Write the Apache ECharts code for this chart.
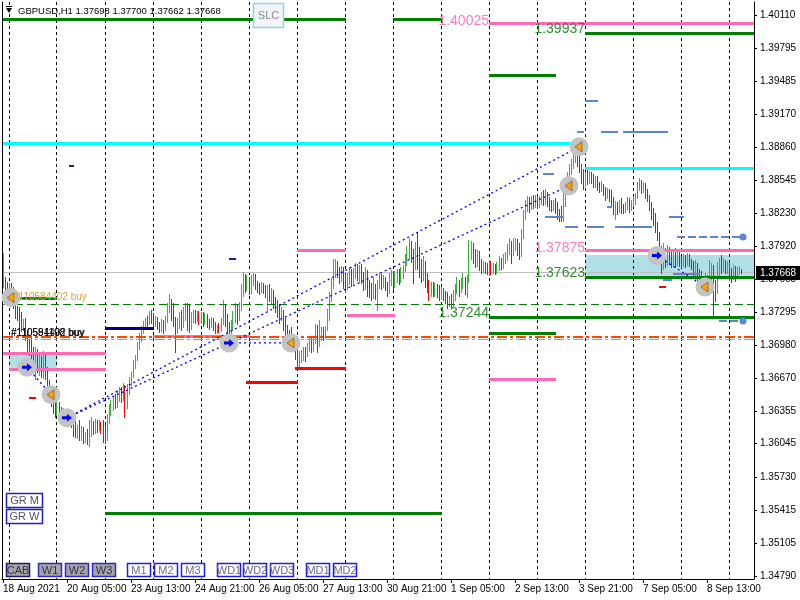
<!DOCTYPE html>
<html><head><meta charset="utf-8">
<script src="https://cdn.jsdelivr.net/npm/echarts@6/dist/echarts.min.js"></script>
<style>html,body{margin:0;padding:0;background:#fff}#c{width:800px;height:600px}</style>
</head><body><div id="c"></div>
<script>
// ---- DATA ----
const symbolTitle = 'GBPUSD,H1 1.37698 1.37700 1.37662 1.37668';
const tickLabels = ['18 Aug 2021','20 Aug 05:00','23 Aug 13:00','24 Aug 21:00','26 Aug 05:00','27 Aug 13:00','30 Aug 21:00','1 Sep 05:00','2 Sep 13:00','3 Sep 21:00','7 Sep 05:00','8 Sep 13:00'];
const priceTicks = [1.40110,1.39795,1.39485,1.39170,1.38860,1.38545,1.38230,1.37920,1.37605,1.37295,1.36980,1.36670,1.36355,1.36045,1.35730,1.35415,1.35105,1.34790];
const daySeparators = [3,27,51,75,99,123,147,171,195,219,243,267,291,315,339,363];
const bidPrice = 1.37668;
// H1 bars: [open, close, low, high]
const bars = [
[1.3757,1.3780,1.3753,1.3785],[1.3762,1.3752,1.3749,1.3763],[1.3753,1.3748,1.3745,1.3758],[1.3748,1.3755,1.3744,1.3757],[1.3755,1.3746,1.3741,1.3757],[1.3746,1.3738,1.3733,1.3753],
[1.3738,1.3729,1.3724,1.3742],[1.3729,1.3725,1.3722,1.3735],[1.3725,1.3718,1.3712,1.3734],[1.3718,1.3715,1.3711,1.3729],[1.3715,1.3721,1.3712,1.3723],[1.3721,1.3708,1.3703,1.3724],
[1.3708,1.3698,1.3692,1.3712],[1.3698,1.3693,1.3689,1.3703],[1.3693,1.3688,1.3684,1.3706],[1.3688,1.3684,1.3676,1.3696],[1.3684,1.3692,1.3666,1.3696],[1.3692,1.3680,1.3672,1.3694],
[1.3680,1.3686,1.3670,1.3690],[1.3686,1.3677,1.3668,1.3688],[1.3677,1.3685,1.3667,1.3692],[1.3685,1.3672,1.3666,1.3690],[1.3672,1.3660,1.3655,1.3677],[1.3660,1.3655,1.3649,1.3665],
[1.3655,1.3645,1.3640,1.3658],[1.3645,1.3638,1.3634,1.3652],[1.3638,1.3636,1.3630,1.3646],[1.3636,1.3641,1.3632,1.3645],[1.3641,1.3633,1.3628,1.3644],[1.3633,1.3630,1.3625,1.3639],
[1.3630,1.3634,1.3626,1.3638],[1.3634,1.3628,1.3624,1.3637],[1.3628,1.3627,1.3622,1.3633],[1.3627,1.3631,1.3621,1.3633],[1.3631,1.3624,1.3620,1.3632],[1.3624,1.3617,1.3612,1.3633],
[1.3617,1.3613,1.3611,1.3626],[1.3613,1.3618,1.3610,1.3622],[1.3618,1.3611,1.3608,1.3627],[1.3611,1.3614,1.3608,1.3621],[1.3614,1.3609,1.3605,1.3620],[1.3609,1.3612,1.3606,1.3616],
[1.3612,1.3606,1.3604,1.3618],[1.3606,1.3615,1.3602,1.3627],[1.3615,1.3622,1.3612,1.3630],[1.3622,1.3617,1.3614,1.3626],[1.3617,1.3624,1.3615,1.3628],[1.3624,1.3619,1.3616,1.3627],
[1.3619,1.3623,1.3617,1.3627],[1.3623,1.3618,1.3615,1.3625],[1.3618,1.3611,1.3606,1.3627],[1.3611,1.3609,1.3605,1.3622],[1.3609,1.3630,1.3608,1.3633],[1.3630,1.3638,1.3624,1.3642],
[1.3638,1.3643,1.3632,1.3646],[1.3643,1.3647,1.3636,1.3650],[1.3647,1.3642,1.3638,1.3652],[1.3642,1.3650,1.3639,1.3655],[1.3650,1.3654,1.3645,1.3658],[1.3654,1.3649,1.3644,1.3658],
[1.3649,1.3656,1.3646,1.3662],[1.3656,1.3640,1.3630,1.3660],[1.3640,1.3658,1.3638,1.3661],[1.3658,1.3665,1.3652,1.3668],[1.3665,1.3670,1.3660,1.3672],[1.3670,1.3680,1.3668,1.3684],
[1.3680,1.3686,1.3676,1.3689],[1.3686,1.3698,1.3684,1.3701],[1.3698,1.3705,1.3694,1.3709],[1.3705,1.3712,1.3702,1.3716],[1.3712,1.3718,1.3709,1.3721],[1.3718,1.3722,1.3713,1.3724],
[1.3722,1.3720,1.3716,1.3726],[1.3720,1.3726,1.3718,1.3730],[1.3726,1.3723,1.3719,1.3731],[1.3723,1.3718,1.3715,1.3728],[1.3718,1.3722,1.3716,1.3726],[1.3722,1.3716,1.3713,1.3725],
[1.3716,1.3715,1.3710,1.3720],[1.3715,1.3720,1.3711,1.3723],[1.3720,1.3714,1.3709,1.3722],[1.3714,1.3722,1.3712,1.3726],[1.3722,1.3734,1.3720,1.3738],[1.3734,1.3740,1.3729,1.3746],
[1.3740,1.3728,1.3722,1.3742],[1.3728,1.3722,1.3716,1.3738],[1.3722,1.3712,1.3691,1.3725],[1.3712,1.3720,1.3709,1.3724],[1.3720,1.3726,1.3714,1.3729],[1.3726,1.3718,1.3712,1.3731],
[1.3718,1.3728,1.3715,1.3734],[1.3728,1.3733,1.3722,1.3738],[1.3733,1.3722,1.3712,1.3738],[1.3722,1.3716,1.3710,1.3736],[1.3716,1.3724,1.3713,1.3729],[1.3724,1.3729,1.3720,1.3731],
[1.3729,1.3724,1.3719,1.3731],[1.3724,1.3728,1.3721,1.3730],[1.3728,1.3722,1.3718,1.3730],[1.3722,1.3727,1.3719,1.3729],[1.3727,1.3721,1.3716,1.3729],[1.3721,1.3726,1.3718,1.3728],
[1.3726,1.3719,1.3715,1.3727],[1.3719,1.3717,1.3713,1.3723],[1.3717,1.3722,1.3715,1.3725],[1.3722,1.3715,1.3712,1.3724],[1.3715,1.3711,1.3709,1.3720],[1.3711,1.3714,1.3709,1.3717],
[1.3714,1.3712,1.3710,1.3719],[1.3712,1.3720,1.3711,1.3724],[1.3720,1.3733,1.3718,1.3741],[1.3733,1.3722,1.3716,1.3736],[1.3722,1.3714,1.3709,1.3727],[1.3714,1.3710,1.3705,1.3720],
[1.3710,1.3717,1.3708,1.3722],[1.3717,1.3726,1.3712,1.3730],[1.3726,1.3733,1.3720,1.3738],[1.3733,1.3726,1.3718,1.3736],[1.3726,1.3735,1.3722,1.3739],[1.3735,1.3752,1.3731,1.3756],
[1.3752,1.3762,1.3745,1.3767],[1.3762,1.3754,1.3748,1.3765],[1.3754,1.3760,1.3750,1.3764],[1.3760,1.3751,1.3746,1.3763],[1.3751,1.3760,1.3747,1.3764],[1.3760,1.3763,1.3755,1.3766],
[1.3763,1.3755,1.3751,1.3765],[1.3755,1.3752,1.3748,1.3759],[1.3752,1.3750,1.3746,1.3757],[1.3750,1.3754,1.3748,1.3758],[1.3754,1.3749,1.3747,1.3757],[1.3749,1.3747,1.3744,1.3755],
[1.3747,1.3752,1.3731,1.3755],[1.3752,1.3744,1.3740,1.3756],[1.3744,1.3748,1.3738,1.3752],[1.3748,1.3738,1.3733,1.3750],[1.3738,1.3735,1.3729,1.3744],[1.3735,1.3730,1.3725,1.3741],
[1.3730,1.3726,1.3719,1.3736],[1.3726,1.3730,1.3722,1.3734],[1.3730,1.3718,1.3712,1.3731],[1.3718,1.3710,1.3706,1.3724],[1.3710,1.3706,1.3703,1.3717],[1.3706,1.3704,1.3699,1.3712],
[1.3704,1.3700,1.3695,1.3715],[1.3700,1.3698,1.3694,1.3707],[1.3698,1.3692,1.3685,1.3703],[1.3692,1.3684,1.3677,1.3697],[1.3684,1.3688,1.3677,1.3692],[1.3688,1.3690,1.3682,1.3693],
[1.3690,1.3694,1.3684,1.3696],[1.3694,1.3689,1.3683,1.3696],[1.3689,1.3697,1.3688,1.3700],[1.3697,1.3701,1.3692,1.3705],[1.3701,1.3696,1.3691,1.3706],[1.3696,1.3703,1.3692,1.3705],
[1.3703,1.3714,1.3700,1.3718],[1.3714,1.3699,1.3691,1.3717],[1.3699,1.3710,1.3697,1.3722],[1.3710,1.3712,1.3703,1.3715],[1.3712,1.3707,1.3703,1.3715],[1.3707,1.3713,1.3705,1.3716],
[1.3713,1.3728,1.3712,1.3732],[1.3728,1.3745,1.3722,1.3748],[1.3745,1.3758,1.3740,1.3762],[1.3758,1.3776,1.3752,1.3780],[1.3776,1.3777,1.3763,1.3780],[1.3777,1.3768,1.3763,1.3778],
[1.3768,1.3762,1.3757,1.3772],[1.3762,1.3770,1.3759,1.3773],[1.3770,1.3758,1.3752,1.3772],[1.3758,1.3753,1.3748,1.3765],[1.3753,1.3762,1.3751,1.3766],[1.3762,1.3768,1.3756,1.3772],
[1.3768,1.3760,1.3754,1.3770],[1.3760,1.3768,1.3757,1.3771],[1.3768,1.3772,1.3762,1.3776],[1.3772,1.3765,1.3760,1.3775],[1.3765,1.3771,1.3758,1.3774],[1.3771,1.3763,1.3757,1.3775],
[1.3763,1.3755,1.3750,1.3767],[1.3755,1.3766,1.3751,1.3772],[1.3766,1.3753,1.3745,1.3769],[1.3753,1.3749,1.3744,1.3760],[1.3749,1.3746,1.3741,1.3757],[1.3746,1.3752,1.3743,1.3763],
[1.3752,1.3747,1.3742,1.3756],[1.3747,1.3757,1.3731,1.3760],[1.3757,1.3762,1.3752,1.3766],[1.3762,1.3756,1.3751,1.3765],[1.3756,1.3761,1.3753,1.3764],[1.3761,1.3754,1.3750,1.3763],
[1.3754,1.3750,1.3745,1.3758],[1.3750,1.3760,1.3747,1.3766],[1.3760,1.3765,1.3755,1.3769],[1.3765,1.3756,1.3751,1.3768],[1.3756,1.3763,1.3753,1.3768],[1.3763,1.3767,1.3758,1.3770],
[1.3767,1.3761,1.3756,1.3770],[1.3761,1.3768,1.3758,1.3772],[1.3768,1.3771,1.3762,1.3774],[1.3771,1.3780,1.3768,1.3784],[1.3780,1.3788,1.3774,1.3792],[1.3788,1.3795,1.3780,1.3800],
[1.3795,1.3783,1.3777,1.3797],[1.3783,1.3776,1.3757,1.3789],[1.3776,1.3792,1.3770,1.3796],[1.3792,1.3778,1.3770,1.3805],[1.3778,1.3770,1.3763,1.3791],[1.3770,1.3765,1.3758,1.3780],
[1.3765,1.3774,1.3760,1.3782],[1.3774,1.3762,1.3753,1.3778],[1.3762,1.3755,1.3748,1.3766],[1.3755,1.3750,1.3741,1.3760],[1.3750,1.3755,1.3745,1.3758],[1.3755,1.3750,1.3745,1.3758],
[1.3750,1.3754,1.3745,1.3757],[1.3754,1.3748,1.3744,1.3756],[1.3748,1.3746,1.3741,1.3755],[1.3746,1.3750,1.3742,1.3753],[1.3750,1.3745,1.3741,1.3752],[1.3745,1.3742,1.3738,1.3749],
[1.3742,1.3738,1.3733,1.3748],[1.3738,1.3742,1.3735,1.3745],[1.3742,1.3737,1.3733,1.3746],[1.3737,1.3745,1.3735,1.3750],[1.3745,1.3752,1.3741,1.3756],[1.3752,1.3757,1.3747,1.3763],
[1.3757,1.3751,1.3745,1.3760],[1.3751,1.3758,1.3748,1.3762],[1.3758,1.3761,1.3752,1.3766],[1.3761,1.3753,1.3746,1.3763],[1.3753,1.3760,1.3744,1.3764],[1.3760,1.3790,1.3758,1.3798],
[1.3790,1.3793,1.3780,1.3797],[1.3793,1.3782,1.3776,1.3795],[1.3782,1.3777,1.3772,1.3789],[1.3777,1.3784,1.3773,1.3788],[1.3784,1.3774,1.3769,1.3787],[1.3774,1.3770,1.3766,1.3780],
[1.3770,1.3775,1.3767,1.3778],[1.3775,1.3769,1.3766,1.3777],[1.3769,1.3767,1.3765,1.3776],[1.3767,1.3774,1.3764,1.3779],[1.3774,1.3768,1.3765,1.3778],[1.3768,1.3772,1.3766,1.3776],
[1.3772,1.3768,1.3765,1.3775],[1.3768,1.3773,1.3766,1.3777],[1.3773,1.3778,1.3769,1.3782],[1.3778,1.3773,1.3770,1.3781],[1.3773,1.3780,1.3771,1.3784],[1.3780,1.3783,1.3776,1.3786],
[1.3783,1.3790,1.3779,1.3794],[1.3790,1.3795,1.3784,1.3800],[1.3795,1.3786,1.3776,1.3797],[1.3786,1.3794,1.3783,1.3800],[1.3794,1.3797,1.3788,1.3800],[1.3797,1.3788,1.3783,1.3799],
[1.3788,1.3784,1.3780,1.3795],[1.3784,1.3805,1.3782,1.3808],[1.3805,1.3822,1.3800,1.3826],[1.3822,1.3832,1.3818,1.3836],[1.3832,1.3836,1.3825,1.3839],[1.3836,1.3830,1.3824,1.3838],
[1.3830,1.3836,1.3827,1.3839],[1.3836,1.3832,1.3828,1.3840],[1.3832,1.3837,1.3829,1.3840],[1.3837,1.3831,1.3828,1.3839],[1.3831,1.3836,1.3829,1.3839],[1.3836,1.3840,1.3832,1.3843],
[1.3840,1.3835,1.3831,1.3845],[1.3835,1.3841,1.3832,1.3846],[1.3841,1.3834,1.3830,1.3843],[1.3834,1.3831,1.3826,1.3838],[1.3831,1.3829,1.3825,1.3836],[1.3829,1.3833,1.3826,1.3836],
[1.3833,1.3828,1.3823,1.3837],[1.3828,1.3822,1.3818,1.3834],[1.3822,1.3820,1.3816,1.3827],[1.3820,1.3818,1.3816,1.3830],[1.3818,1.3838,1.3816,1.3842],[1.3838,1.3848,1.3830,1.3851],
[1.3848,1.3858,1.3845,1.3862],[1.3858,1.3866,1.3852,1.3870],[1.3866,1.3870,1.3860,1.3874],[1.3870,1.3878,1.3866,1.3882],[1.3878,1.3886,1.3872,1.3890],[1.3886,1.3875,1.3868,1.3888],
[1.3875,1.3866,1.3862,1.3880],[1.3866,1.3858,1.3852,1.3870],[1.3858,1.3852,1.3846,1.3865],[1.3852,1.3858,1.3849,1.3862],[1.3858,1.3855,1.3851,1.3864],[1.3855,1.3860,1.3852,1.3863],
[1.3860,1.3855,1.3852,1.3862],[1.3855,1.3852,1.3848,1.3860],[1.3852,1.3856,1.3848,1.3858],[1.3856,1.3849,1.3845,1.3858],[1.3849,1.3846,1.3843,1.3853],[1.3846,1.3850,1.3844,1.3854],
[1.3850,1.3843,1.3840,1.3851],[1.3843,1.3840,1.3836,1.3848],[1.3840,1.3844,1.3837,1.3847],[1.3844,1.3838,1.3835,1.3846],[1.3838,1.3833,1.3829,1.3845],[1.3833,1.3826,1.3822,1.3838],
[1.3826,1.3832,1.3818,1.3835],[1.3832,1.3827,1.3822,1.3834],[1.3827,1.3832,1.3824,1.3836],[1.3832,1.3828,1.3823,1.3837],[1.3828,1.3826,1.3823,1.3832],[1.3826,1.3831,1.3824,1.3834],
[1.3831,1.3835,1.3827,1.3838],[1.3835,1.3829,1.3824,1.3837],[1.3829,1.3834,1.3826,1.3836],[1.3834,1.3837,1.3830,1.3839],[1.3837,1.3840,1.3832,1.3842],[1.3840,1.3850,1.3837,1.3853],
[1.3850,1.3853,1.3845,1.3856],[1.3853,1.3847,1.3842,1.3855],[1.3847,1.3850,1.3843,1.3853],[1.3850,1.3842,1.3837,1.3852],[1.3842,1.3838,1.3835,1.3846],[1.3838,1.3832,1.3826,1.3840],
[1.3832,1.3825,1.3818,1.3834],[1.3825,1.3818,1.3812,1.3828],[1.3818,1.3810,1.3805,1.3823],[1.3810,1.3802,1.3798,1.3815],[1.3802,1.3785,1.3780,1.3805],[1.3785,1.3774,1.3766,1.3792],
[1.3774,1.3786,1.3770,1.3795],[1.3786,1.3778,1.3772,1.3790],[1.3778,1.3788,1.3774,1.3793],[1.3788,1.3780,1.3775,1.3791],[1.3780,1.3776,1.3772,1.3786],[1.3776,1.3782,1.3773,1.3788],
[1.3782,1.3777,1.3772,1.3790],[1.3777,1.3783,1.3774,1.3786],[1.3783,1.3777,1.3773,1.3786],[1.3777,1.3776,1.3772,1.3782],[1.3776,1.3780,1.3773,1.3784],[1.3780,1.3776,1.3772,1.3783],
[1.3776,1.3781,1.3774,1.3785],[1.3781,1.3777,1.3773,1.3784],[1.3777,1.3774,1.3770,1.3780],[1.3774,1.3768,1.3762,1.3778],[1.3768,1.3773,1.3760,1.3779],[1.3773,1.3765,1.3757,1.3776],
[1.3765,1.3762,1.3757,1.3770],[1.3762,1.3755,1.3750,1.3768],[1.3755,1.3752,1.3747,1.3762],[1.3752,1.3760,1.3749,1.3766],[1.3760,1.3753,1.3748,1.3764],[1.3753,1.3768,1.3752,1.3779],
[1.3768,1.3772,1.3757,1.3776],[1.3772,1.3754,1.3725,1.3774],[1.3754,1.3750,1.3740,1.3760],[1.3750,1.3768,1.3747,1.3777],[1.3768,1.3777,1.3762,1.3781],[1.3777,1.3772,1.3766,1.3783],
[1.3772,1.3776,1.3768,1.3781],[1.3776,1.3771,1.3766,1.3779],[1.3771,1.3775,1.3766,1.3778],[1.3775,1.3766,1.3760,1.3777],[1.3766,1.3763,1.3758,1.3771],[1.3763,1.3770,1.3761,1.3774],
[1.3770,1.3764,1.3759,1.3773],[1.3764,1.3770,1.3762,1.3772],[1.3768,1.3770,1.3765,1.3773],[1.37698,1.37668,1.37662,1.37700]
];
// horizontal objects: [fromBar, toBar, price]
const greenLevels = [[0,171,1.40072],[195,219,1.40072],[291,375,1.39937],[243,276,1.39541],[291,375,1.37623],[243,375,1.37244],[243,276,1.37085],[51,219,1.35378],[0,27,1.37417]];
const pinkLevels = [[243,375,1.40025],[147,171,1.37875],[291,375,1.37875],[172,196,1.37260],[75,123,1.37063],[0,51,1.36902],[3,51,1.36744],[243,276,1.36658]];
const cyanLevels = [[0,291,1.38895],[291,375,1.38657]];
const redLevels = [[146,171,1.36760],[122,147,1.36628]];
const navyLevels = [[51,75,1.37139]];
const zones = [[3,27,1.36744,1.36890],[291,375,1.37623,1.37834]];
const openOrderLine = [[0,375,1.37366]];
const stopLineA = [[0,375,1.37055]];
const stopLineB = [[0,375,1.37036]];
const blueTicks = [[291,297,1.39294],[287,290,1.38999],[299,307,1.38999],[310,332,1.38999],[270,275,1.38602],[271,280,1.38194],[281,287,1.38100],[292,300,1.38100],[306,324,1.38100],[302,304,1.38289],[333,340,1.38194],[330,334,1.37597],[335,348,1.37654]];
const blueRays = [[337,370,1.38005],[358,370,1.37209]];
const navyTicks = [[113,116,1.37796],[33,35,1.38678]];
const redTicks = [[13,16,1.36478],[328,331,1.37532]];
// trades: [openBar, openPrice, closeBar, closePrice]
const trades = [[12,1.3677,24,1.3651],[32,1.3629,288,1.3886],[32,1.3629,283,1.3849],[113,1.3700,144,1.3700],[327,1.3783,351,1.3753]];
const openMarks = [[12,1.3677],[32,1.3629],[113,1.3700],[327,1.3783]];
const closeMarks = [[4,1.3743],[24,1.3651],[144,1.3700],[283,1.3849],[288,1.3886],[351,1.3753]];
const pinkTexts = [[243,1.40025,'1.40025'],[291,1.37875,'1.37875']];
const greenTexts = [[291,1.39937,'1.39937'],[291,1.37623,'1.37623'],[243,1.37244,'1.37244']];
const orderTexts = [[5,1.37430,'#110584402 buy','#d9a441'],[4,1.37090,'#110591198 buy','#000'],[4,1.37090,'#110584402 buy','#111']];
const buttonsGrey = ['CAB','W1','W2','W3'];
const buttonsWhite = ['M1','M2','M3','WD1','WD2','WD3','MD1','MD2'];

const categories = Array.from({length: 376}, (_, i) => String(i));
const FONT = 'Liberation Sans, Arial, sans-serif';

// ---- helpers ----
function hSeg(data, color, width, dash) {
  return {
    type: 'custom', data: data, encode: {x: [0, 1], y: 2}, clip: false, silent: true,
    renderItem: function (params, api) {
      const a = api.coord([api.value(0), api.value(2)]);
      const b = api.coord([api.value(1), api.value(2)]);
      const y = (width % 2) ? Math.round(a[1] - 0.5) + 0.5 : Math.round(a[1]);
      return {type: 'line', shape: {x1: Math.floor(a[0]), y1: y, x2: Math.floor(b[0]) + 1, y2: y},
        style: {stroke: color, lineWidth: width, lineDash: dash || null}};
    }
  };
}
function textSeries(list, color, size, dy, align) {
  return {
    type: 'custom', data: list.map(d => [d[0], d[1]]), encode: {x: 0, y: 1}, clip: false, silent: true,
    renderItem: function (params, api) {
      const d = list[params.dataIndex];
      const p = api.coord([api.value(0), api.value(1)]);
      return {type: 'text', x: p[0], y: p[1] + dy,
        style: {text: d[2], fill: d[3] || color, font: size + 'px ' + FONT, align: align, verticalAlign: 'middle'}};
    }
  };
}

const series = [];
// zones (background)
series.push({
  type: 'custom', data: zones, encode: {x: [0, 1], y: [2, 3]}, silent: true,
  renderItem: function (params, api) {
    const a = api.coord([api.value(0), api.value(3)]);
    const b = api.coord([api.value(1), api.value(2)]);
    return {type: 'rect', shape: {x: Math.floor(a[0]), y: Math.round(a[1]), width: Math.floor(b[0]) - Math.floor(a[0]) + 1, height: Math.round(b[1]) - Math.round(a[1])},
      style: {fill: '#b0e0e6'}};
  }
});
// day separators
series.push({
  type: 'custom', data: daySeparators.map(i => [i]), encode: {x: 0}, silent: true,
  renderItem: function (params, api) {
    const cs = params.coordSys;
    const p = api.coord([api.value(0), 1.37]);
    const x = Math.floor(p[0]) + 0.5;
    return {type: 'line', shape: {x1: x, y1: cs.y, x2: x, y2: cs.y + cs.height},
      style: {stroke: '#000', lineWidth: 1, lineDash: [3, 3]}};
  }
});
// bid line
series.push(hSeg([[0, 375, bidPrice]], '#c0c0c0', 1));
// bars (high-low bars, green up / red down)
series.push({
  type: 'custom', data: bars.map((b, i) => [i, b[0], b[1], b[2], b[3]]), encode: {x: 0, y: [1, 2, 3, 4]}, silent: true,
  renderItem: function (params, api) {
    const i = api.value(0);
    const lo = api.coord([i, api.value(3)]);
    const hi = api.coord([i, api.value(4)]);
    const up = api.value(2) >= api.value(1);
    const top = Math.round(hi[1]);
    const bot = Math.round(lo[1]);
    return {type: 'rect', shape: {x: Math.floor(lo[0]), y: top, width: 1, height: Math.max(1, bot - top + 1)},
      style: {fill: up ? '#33b833' : '#ff0000', stroke: null}};
  }
});
// levels
series.push(hSeg(cyanLevels, '#00ffff', 3));
series.push(hSeg(pinkLevels, '#ff69b4', 3));
series.push(hSeg(greenLevels, '#008000', 3));
series.push(hSeg(redLevels, '#ff0000', 3));
series.push(hSeg(navyLevels, '#000080', 3));
series.push(hSeg(openOrderLine, '#008000', 1, [8, 4]));
series.push(hSeg(stopLineA, '#ff4500', 2, [10, 3, 3, 3]));
series.push(hSeg(stopLineB, '#ff8c00', 1, [10, 3, 3, 3]));
series.push(hSeg(blueTicks, '#5b84d3', 2));
series.push(hSeg(blueRays, '#5b84d3', 2, [8, 3]));
series.push(hSeg(navyTicks, '#1a237e', 2));
series.push(hSeg(redTicks, '#ff0000', 2));
// ray end dots
series.push({
  type: 'custom', data: blueRays.map(r => [r[1], r[2]]), encode: {x: 0, y: 1}, silent: true, clip: false,
  renderItem: function (params, api) {
    const p = api.coord([api.value(0), api.value(1)]);
    return {type: 'circle', shape: {cx: p[0], cy: p[1], r: 3.5}, style: {fill: '#5b84d3'}};
  }
});
// trade lines
series.push({
  type: 'custom', data: trades, encode: {x: [0, 2], y: [1, 3]}, silent: true,
  renderItem: function (params, api) {
    const a = api.coord([api.value(0), api.value(1)]);
    const b = api.coord([api.value(2), api.value(3)]);
    return {type: 'line', shape: {x1: a[0], y1: a[1], x2: b[0], y2: b[1]},
      style: {stroke: '#0000ff', lineWidth: 1.3, lineDash: [2, 3]}};
  }
});
// trade markers
function markerSeries(list, kind) {
  return {
    type: 'custom', data: list, encode: {x: 0, y: 1}, silent: true, clip: false,
    renderItem: function (params, api) {
      const p = api.coord([api.value(0), api.value(1)]);
      const cx = p[0], cy = p[1];
      const glyph = kind === 'open'
        ? {type: 'polygon', shape: {points: [[cx - 5, cy - 1.5], [cx, cy - 1.5], [cx, cy - 4], [cx + 5, cy], [cx, cy + 4], [cx, cy + 1.5], [cx - 5, cy + 1.5]]}, style: {fill: '#0000ff'}}
        : {type: 'polygon', shape: {points: [[cx - 4, cy], [cx + 3, cy - 5], [cx + 3, cy + 5]]}, style: {fill: '#ffa500', stroke: '#8b5a2b', lineWidth: 0.8}};
      return {type: 'group', children: [
        {type: 'circle', shape: {cx: cx, cy: cy, r: 9.5}, style: {fill: '#c3c3c3'}},
        glyph
      ]};
    }
  };
}
series.push(markerSeries(openMarks, 'open'));
series.push(markerSeries(closeMarks, 'close'));
// texts
series.push(textSeries(pinkTexts, '#ff7cc0', 14, -3, 'right'));
series.push(textSeries(greenTexts, '#2f8f2f', 14, -4, 'right'));
series.push(textSeries(orderTexts, '#000', 10, 0, 'left'));
// bid tag
series.push({
  type: 'custom', data: [[375, bidPrice]], encode: {x: 0, y: 1}, silent: true, clip: false, z: 10,
  renderItem: function (params, api) {
    const cs = params.coordSys;
    const p = api.coord([api.value(0), api.value(1)]);
    const x = cs.x + cs.width + 2;
    const y = Math.round(p[1]);
    return {type: 'group', children: [
      {type: 'rect', shape: {x: x, y: y - 7, width: 44, height: 14}, style: {fill: '#000'}},
      {type: 'text', x: x + 4, y: y, style: {text: api.value(1).toFixed(5), fill: '#fff', font: '10px ' + FONT, verticalAlign: 'middle'}}
    ]};
  }
});

// graphic UI elements
const graphic = [];
graphic.push({type: 'polygon', shape: {points: [[6, 8], [12, 8], [9, 13]]}, style: {fill: '#000'}, z: 100});
graphic.push({type: 'rect', shape: {x: 6, y: 6, width: 6, height: 1}, style: {fill: '#000'}, z: 100});
graphic.push({type: 'text', x: 18, y: 11, style: {text: symbolTitle, fill: '#000', font: '9.5px ' + FONT, verticalAlign: 'middle'}, z: 100});
function button(label, x, y, w, h, fill, stroke, color) {
  graphic.push({type: 'rect', shape: {x: x + 0.5, y: y + 0.5, width: w, height: h}, style: {fill: fill, stroke: stroke, lineWidth: 1.5}, z: 100});
  graphic.push({type: 'text', x: x + w / 2 + 0.5, y: y + h / 2 + 1, style: {text: label, fill: color, font: '11px ' + FONT, align: 'center', verticalAlign: 'middle'}, z: 101});
}
button('SLC', 253, 3, 30, 24, '#f2f5f8', '#8fd3ee', '#8a8a8a');
button('GR M', 6, 493, 36, 14, '#fff', '#1f1fd0', '#555566');
button('GR W', 6, 509, 36, 14, '#fff', '#1f1fd0', '#555566');
const greyX = [6, 38, 65, 92];
buttonsGrey.forEach((b, k) => button(b, greyX[k], 563, 23, 13, '#a6a6a6', k === 0 ? '#1c1c70' : '#2a2ad0', '#30304a'));
const whiteX = [127, 154, 181, 217, 243, 270, 306, 333];
buttonsWhite.forEach((b, k) => button(b, whiteX[k], 563, 23, 13, '#fff', '#1f1fe0', '#6a6a88'));

const chart = echarts.init(document.getElementById('c'), null, {renderer: 'canvas'});
chart.setOption({
  animation: false,
  backgroundColor: '#fff',
  grid: {left: 2, right: 46, top: 2, bottom: 21, containLabel: false},
  xAxis: {
    type: 'category', data: categories, boundaryGap: true,
    axisLine: {show: true, lineStyle: {color: '#000', width: 1}},
    axisTick: {show: true, alignWithLabel: true, interval: (i) => i % 32 === 0, length: 4, lineStyle: {color: '#000'}},
    axisLabel: {interval: (i) => i % 32 === 0, formatter: (v, i) => tickLabels[Math.round(i / 32)] || '', align: 'left', color: '#000', fontSize: 10, fontFamily: FONT, margin: 5},
    splitLine: {show: false}
  },
  yAxis: [{
    type: 'value', position: 'right', min: 1.347616, max: 1.402333,
    splitLine: {show: false},
    axisLine: {show: true, lineStyle: {color: '#000'}},
    axisTick: {show: true, customValues: priceTicks, length: 3, lineStyle: {color: '#000'}},
    axisLabel: {customValues: priceTicks, formatter: (v) => v.toFixed(5), color: '#000', fontSize: 10, fontFamily: FONT, margin: 6}
  }, {
    type: 'value', position: 'left', min: 1.347616, max: 1.402333,
    splitLine: {show: false}, axisLine: {show: true, lineStyle: {color: '#000'}}, axisTick: {show: false}, axisLabel: {show: false}
  }],
  series: series,
  graphic: graphic
});
</script></body></html>
